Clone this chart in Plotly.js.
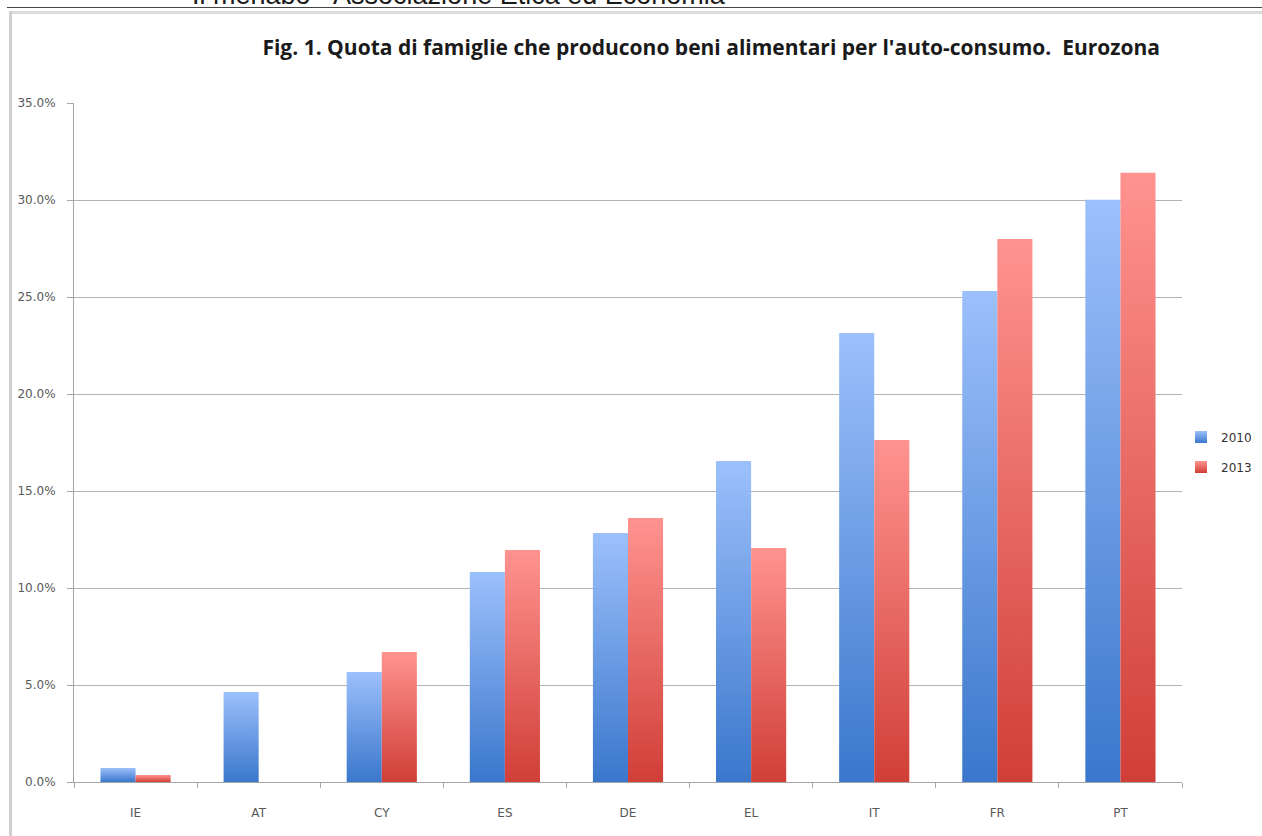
<!DOCTYPE html>
<html>
<head>
<meta charset="utf-8">
<script src="https://cdn.plot.ly/plotly-3.0.1.min.js"></script>
<style>
  html, body { margin: 0; padding: 0; background: #ffffff; }
  #chart { width: 1262px; height: 836px; }
</style>
</head>
<body>
<div id="chart"></div>
<script>
// Share of households producing food for own consumption, euro area
const countries = ['IE', 'AT', 'CY', 'ES', 'DE', 'EL', 'IT', 'FR', 'PT'];
const share2010 = [0.0072, 0.0464, 0.0567, 0.1082, 0.1284, 0.1655, 0.2314, 0.2531, 0.3001];
const share2013 = [0.0036, 0, 0.0670, 0.1196, 0.1361, 0.1206, 0.1763, 0.2799, 0.3140];
const seriesNames = ['2010', '2013'];
const yTickVals = [0, 0.05, 0.10, 0.15, 0.20, 0.25, 0.30, 0.35];

const W = 1262, H = 836;
const M = { l: 74, r: 80, t: 103, b: 54, autoexpand: false };
const plotW = W - M.l - M.r, plotH = H - M.t - M.b;
// pixel -> paper helpers for the frame decoration
const px = v => (v - M.l) / plotW;
const py = v => (H - M.b - v) / plotH;

const tickFont = { family: 'DejaVu Sans, sans-serif', size: 12, color: '#595959' };

const traces = [
  { type: 'bar', name: seriesNames[0], legendgroup: 'a', x: countries, y: share2010,
    marker: { color: '#6a9ae6', line: { width: 0 } }, hoverinfo: 'x+y' },
  { type: 'bar', name: seriesNames[1], legendgroup: 'b', x: countries, y: share2013,
    marker: { color: '#e06a64', line: { width: 0 } }, hoverinfo: 'x+y' }
];

const layout = {
  width: W, height: H,
  margin: M,
  paper_bgcolor: '#ffffff',
  plot_bgcolor: '#ffffff',
  barmode: 'group',
  bargap: 0.43,
  bargroupgap: 0,
  showlegend: true,
  legend: {
    x: px(1181), xanchor: 'left',
    y: py(452), yanchor: 'middle',
    traceorder: 'grouped',
    tracegroupgap: 11,
    font: { family: 'DejaVu Sans, sans-serif', size: 12, color: '#333333' },
    itemwidth: 30,
    bgcolor: 'rgba(0,0,0,0)'
  },
  title: {
    text: "Fig. 1. Quota di famiglie che producono beni alimentari per l'auto-consumo.\u00a0 Eurozona",
    font: { family: 'Open Sans, sans-serif', size: 21, color: '#1a1a1a', weight: 'bold' },
    xref: 'container', x: 1160 / W, xanchor: 'right',
    yref: 'container', y: 1 - 48 / H, yanchor: 'middle'
  },
  xaxis: {
    type: 'category',
    tickfont: tickFont,
    showline: true, linecolor: '#a6a6a6', linewidth: 1,
    ticks: 'outside', ticklen: 5, tickcolor: '#a6a6a6',
    tickson: 'boundaries',
    showgrid: false,
    ticklabelstandoff: 20,
    fixedrange: true
  },
  yaxis: {
    range: [0, 0.35],
    tickvals: yTickVals,
    tickformat: '.1%',
    tickfont: tickFont,
    showline: true, linecolor: '#a6a6a6', linewidth: 1,
    ticks: 'outside', ticklen: 6, tickcolor: '#a6a6a6',
    showgrid: true, gridcolor: '#b3b3b3', gridwidth: 1,
    zeroline: false,
    ticklabelstandoff: 9,
    fixedrange: true
  },
  shapes: [
    // outer rule across the top of the page
    { type: 'line', xref: 'paper', yref: 'paper', x0: px(7), x1: px(W + 5), y0: py(7.5), y1: py(7.5),
      line: { color: '#444444', width: 1 } },
    // soft grey frame of the chart panel
    { type: 'line', xref: 'paper', yref: 'paper', x0: px(9), x1: px(W + 5), y0: py(12.5), y1: py(12.5),
      line: { color: '#dcdcdc', width: 3 } },
    { type: 'line', xref: 'paper', yref: 'paper', x0: px(10.5), x1: px(10.5), y0: py(11), y1: py(H + 5),
      line: { color: '#d0d0d0', width: 3 } }
  ],
  annotations: [
    { text: 'Il menabò - Associazione Etica ed Economia', showarrow: false,
      xref: 'paper', yref: 'paper', x: px(190), xanchor: 'left',
      y: py(12), yanchor: 'bottom',
      font: { family: 'Liberation Sans, Arial, sans-serif', size: 27, color: '#1a1a1a' } }
  ]
};

// vertical gradients for the two series (light at the top, deeper at the base)
const gradients = [
  { id: 'grad2010', top: '#9cc0fb', bottom: '#3a77cc' },
  { id: 'grad2013', top: '#ff9390', bottom: '#d03f37' }
];

function applyGradients(gd) {
  const svg = gd.querySelector('.main-svg');
  const NS = 'http://www.w3.org/2000/svg';
  let defs = svg.querySelector('defs');
  if (!defs) { defs = document.createElementNS(NS, 'defs'); svg.insertBefore(defs, svg.firstChild); }
  gradients.forEach(g => {
    if (defs.querySelector('#' + g.id)) return;
    const lg = document.createElementNS(NS, 'linearGradient');
    lg.setAttribute('id', g.id);
    lg.setAttribute('x1', '0'); lg.setAttribute('y1', '0');
    lg.setAttribute('x2', '0'); lg.setAttribute('y2', '1');
    [[0, g.top], [1, g.bottom]].forEach(([o, c]) => {
      const s = document.createElementNS(NS, 'stop');
      s.setAttribute('offset', String(o));
      s.setAttribute('stop-color', c);
      lg.appendChild(s);
    });
    defs.appendChild(lg);
  });
  gd.querySelectorAll('.barlayer .trace').forEach((tr, i) => {
    tr.querySelectorAll('path').forEach(p => { p.style.fill = 'url(#' + gradients[i].id + ')'; });
  });
  gd.querySelectorAll('.legend .traces').forEach((tr, i) => {
    tr.querySelectorAll('.legendpoints path').forEach(p => { p.style.fill = 'url(#' + gradients[i].id + ')'; });
  });
}

const gd = document.getElementById('chart');
Plotly.newPlot(gd, traces, layout, { displayModeBar: false, staticPlot: true })
  .then(() => applyGradients(gd));
</script>
</body>
</html>
